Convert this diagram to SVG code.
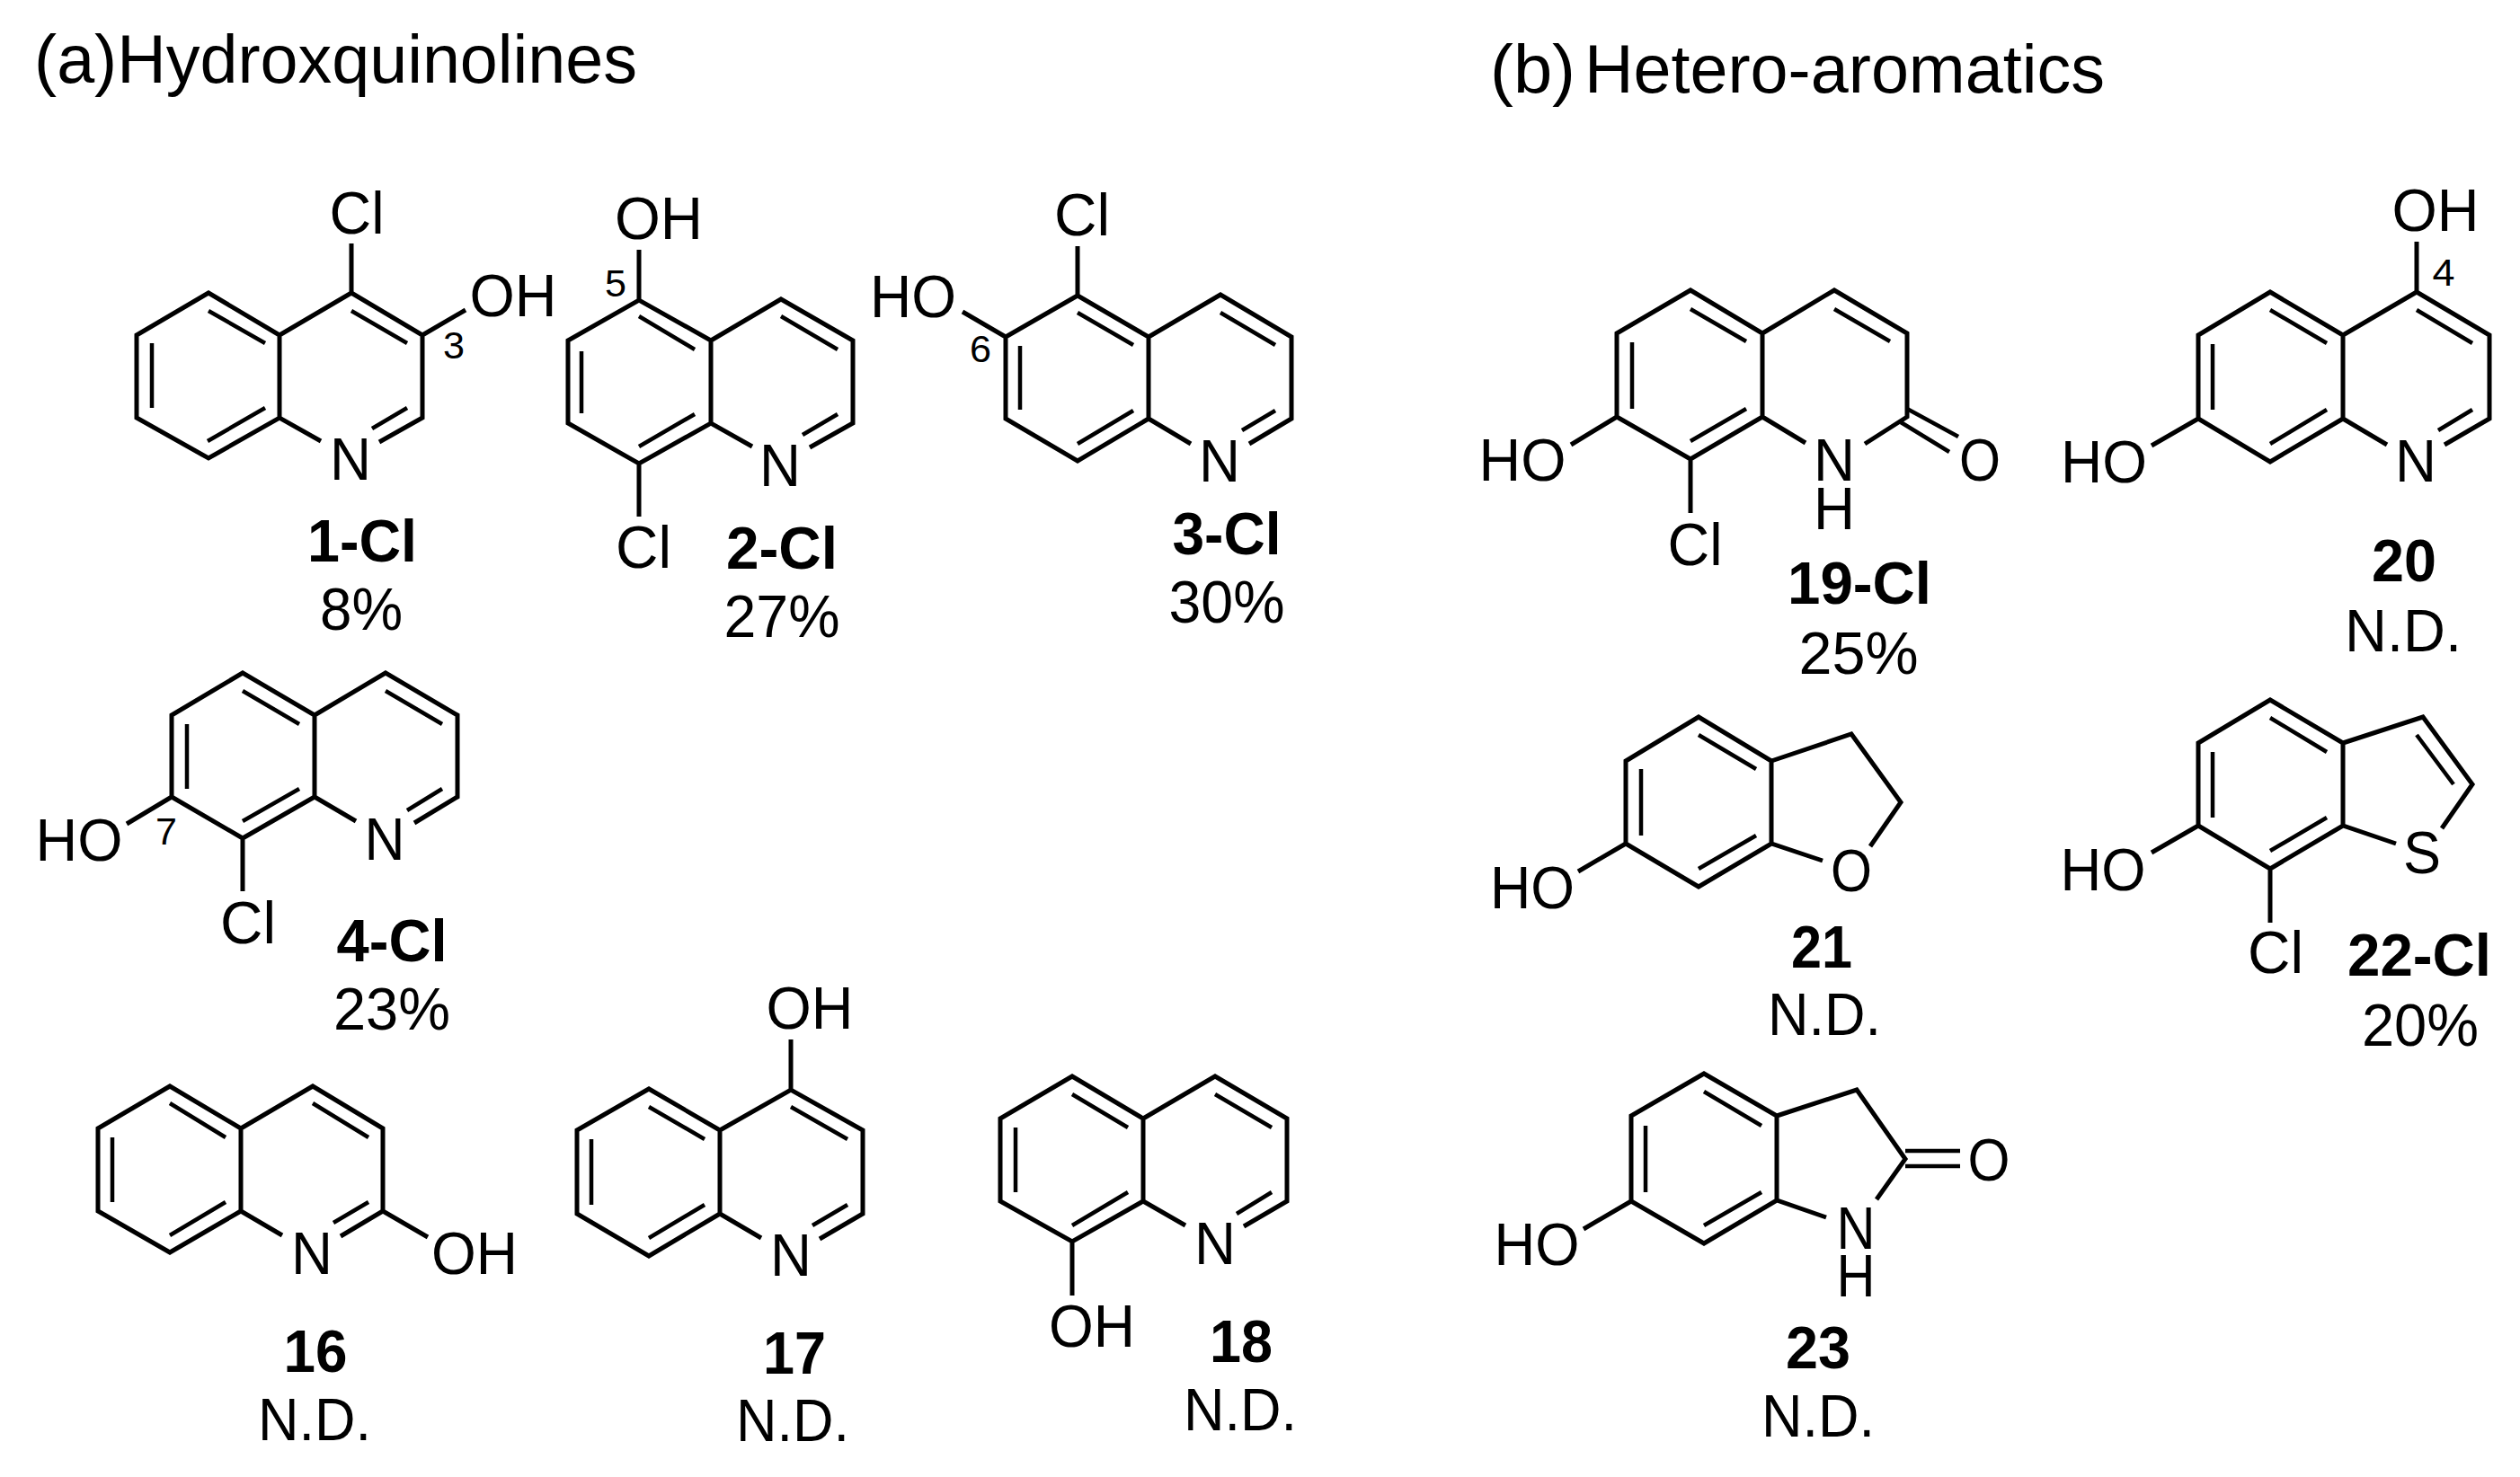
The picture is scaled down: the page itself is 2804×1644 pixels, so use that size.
<svg xmlns="http://www.w3.org/2000/svg" width="2804" height="1644" viewBox="0 0 2804 1644">
<style>
text{font-family:"Liberation Sans",Arial,sans-serif;fill:#000;text-anchor:middle}
.t{font-size:67px}
.b{font-size:67px;font-weight:bold}
.s{font-size:43px}
.h{font-size:76px;text-anchor:start}
.o{fill:none;stroke:#000;stroke-width:5;stroke-linejoin:miter;stroke-miterlimit:4}
.i{fill:none;stroke:#000;stroke-width:4.5}
</style>
<rect width="2804" height="1644" fill="#fff"/>
<g id="title-a"><text class="h" x="38" y="92" textLength="671" lengthAdjust="spacingAndGlyphs">(a)Hydroxquinolines</text></g>
<g id="title-b"><text class="h" x="1658" y="103" textLength="95" lengthAdjust="spacingAndGlyphs">(b)</text><text class="h" x="1763" y="103" textLength="579" lengthAdjust="spacingAndGlyphs">Hetero-aromatics</text></g>
<g id="bonds">
<g id="bonds-1-Cl"><path class="o" d="M311 465V373L232 326L152 373V465L232 510L311 465L357 491M311 373L391 326L470 373V465L422 492M391 271V326M470 373L518 345"/><path class="i" d="M232 346L295 382M169 382V454M231 491L295 454M391 346L453 382M453 454L414 477"/></g>
<g id="bonds-2-Cl"><path class="o" d="M791 471V379L711 334L632 379V471L711 516L791 471L837 497M791 379L869 333L949 379V471L901 498M711 278V334M711 516V575"/><path class="i" d="M711 352L773 389M869 352L932 389M647 391V460M711 497L773 461M932 461L893 484"/></g>
<g id="bonds-3-Cl"><path class="o" d="M1278 466V375L1199 329L1119 375V466L1199 513L1278 466L1325 494M1278 375L1358 328L1437 375V466L1390 494M1199 274V329M1119 375L1071 347"/><path class="i" d="M1199 348L1261 384M1358 348L1419 384M1135 385V456M1199 494L1261 457M1419 457L1382 479"/></g>
<g id="bonds-4-Cl"><path class="o" d="M350 887V796L270 749L191 796V887L270 933L350 887L396 914M350 796L429 749L509 796V887L461 916M270 933V992M191 887L141 917"/><path class="i" d="M270 769L333 806M429 769L492 806M208 806V878M270 914L333 878M492 878L453 902"/></g>
<g id="bonds-16"><path class="o" d="M268 1348V1256L189 1209L109 1256V1348L189 1394L268 1348L314 1375M268 1256L348 1209L426 1256V1348L379 1376M426 1348L476 1377"/><path class="i" d="M189 1228L251 1266M348 1228L410 1266M125 1266V1338M189 1375L251 1338M410 1338L371 1361"/></g>
<g id="bonds-17"><path class="o" d="M801 1351V1258L722 1212L642 1258V1351L722 1398L801 1351L847 1378M801 1258L880 1213L960 1258V1351L912 1379M880 1157V1213"/><path class="i" d="M722 1232L784 1268M658 1268V1341M722 1378L784 1341M880 1232L943 1268M943 1341L904 1364"/></g>
<g id="bonds-18"><path class="o" d="M1272 1337V1245L1193 1198L1113 1245V1337L1193 1382L1272 1337L1319 1364M1272 1245L1352 1198L1432 1245V1337L1384 1365M1193 1382V1442"/><path class="i" d="M1193 1218L1255 1255M1352 1218L1415 1255M1130 1255V1327M1193 1364L1255 1327M1415 1327L1376 1351"/></g>
<g id="bonds-19-Cl"><path class="o" d="M1961 464V371L1881 323L1799 371V464L1881 511L1961 464L2009 493M1961 371L2041 323L2122 371V464L2075 494M1881 511V571M1799 464L1748 495"/><path class="i" d="M1881 344L1943 380M2041 344L2103 380M1816 381V455M1881 491L1943 455M2122 455L2179 486M2115 470L2169 503"/></g>
<g id="bonds-20"><path class="o" d="M2607 466V373L2526 325L2446 373V466L2526 514L2607 466L2656 495M2607 373L2689 325L2770 373V466L2720 495M2689 269V325M2446 466L2394 496"/><path class="i" d="M2526 345L2589 382M2689 345L2751 382M2462 383V456M2526 494L2589 456M2751 456L2713 479"/></g>
<g id="bonds-21"><path class="o" d="M1971 939V847L1890 798L1809 847V939L1890 987L1971 939L2028 958M1971 847L2060 817L2115 893L2081 942M1809 939L1756 970"/><path class="i" d="M1890 818L1954 856M1826 856V930M1890 967L1954 930"/></g>
<g id="bonds-22-Cl"><path class="o" d="M2607 919V827L2526 779L2446 827V919L2526 967L2607 919L2666 939M2607 827L2696 798L2751 873L2717 922M2526 967V1027M2446 919L2394 949"/><path class="i" d="M2526 799L2589 837M2462 837V910M2526 947L2589 910M2689 818L2730 873"/></g>
<g id="bonds-23"><path class="o" d="M1977 1336V1242L1896 1195L1815 1242V1337L1896 1384L1977 1336L2032 1355M1977 1242L2066 1213L2120 1290L2088 1335M1815 1337L1762 1368"/><path class="i" d="M1896 1215L1960 1253M1831 1253V1327M1896 1364L1960 1327M2120 1281H2181M2120 1298H2181"/></g>
</g>
<g id="mol-1-Cl">
<text class="t" x="397" y="260" textLength="61" lengthAdjust="spacingAndGlyphs">Cl</text><text class="t" x="571" y="352" textLength="97" lengthAdjust="spacingAndGlyphs">OH</text><text class="s" x="505" y="399" textLength="24" lengthAdjust="spacingAndGlyphs">3</text><text class="t" x="390" y="534" textLength="46" lengthAdjust="spacingAndGlyphs">N</text><text class="b" x="403" y="625" textLength="122" lengthAdjust="spacingAndGlyphs">1-Cl</text><text class="t" x="402" y="701" textLength="92" lengthAdjust="spacingAndGlyphs">8%</text></g>
<g id="mol-2-Cl">
<text class="t" x="733" y="266" textLength="98" lengthAdjust="spacingAndGlyphs">OH</text><text class="s" x="685" y="330" textLength="24" lengthAdjust="spacingAndGlyphs">5</text><text class="t" x="716" y="632" textLength="62" lengthAdjust="spacingAndGlyphs">Cl</text><text class="t" x="868" y="541" textLength="46" lengthAdjust="spacingAndGlyphs">N</text><text class="b" x="870" y="633" textLength="124" lengthAdjust="spacingAndGlyphs">2-Cl</text><text class="t" x="870" y="709" textLength="129" lengthAdjust="spacingAndGlyphs">27%</text></g>
<g id="mol-3-Cl">
<text class="t" x="1204" y="262" textLength="62" lengthAdjust="spacingAndGlyphs">Cl</text><text class="t" x="1016" y="353" textLength="96" lengthAdjust="spacingAndGlyphs">HO</text><text class="s" x="1091" y="403" textLength="24" lengthAdjust="spacingAndGlyphs">6</text><text class="t" x="1357" y="536" textLength="46" lengthAdjust="spacingAndGlyphs">N</text><text class="b" x="1365" y="617" textLength="121" lengthAdjust="spacingAndGlyphs">3-Cl</text><text class="t" x="1365" y="693" textLength="129" lengthAdjust="spacingAndGlyphs">30%</text></g>
<g id="mol-4-Cl">
<text class="t" x="88" y="958" textLength="97" lengthAdjust="spacingAndGlyphs">HO</text><text class="s" x="185" y="940" textLength="24" lengthAdjust="spacingAndGlyphs">7</text><text class="t" x="428" y="957" textLength="45" lengthAdjust="spacingAndGlyphs">N</text><text class="t" x="276" y="1050" textLength="62" lengthAdjust="spacingAndGlyphs">Cl</text><text class="b" x="436" y="1070" textLength="123" lengthAdjust="spacingAndGlyphs">4-Cl</text><text class="t" x="436" y="1146" textLength="130" lengthAdjust="spacingAndGlyphs">23%</text></g>
<g id="mol-16">
<text class="t" x="347" y="1418" textLength="46" lengthAdjust="spacingAndGlyphs">N</text><text class="t" x="528" y="1418" textLength="96" lengthAdjust="spacingAndGlyphs">OH</text><text class="b" x="351" y="1527" textLength="71" lengthAdjust="spacingAndGlyphs">16</text><text class="t" x="350" y="1603" textLength="126" lengthAdjust="spacingAndGlyphs">N.D.</text></g>
<g id="mol-17">
<text class="t" x="880" y="1420" textLength="46" lengthAdjust="spacingAndGlyphs">N</text><text class="t" x="901" y="1145" textLength="97" lengthAdjust="spacingAndGlyphs">OH</text><text class="b" x="884" y="1529" textLength="70" lengthAdjust="spacingAndGlyphs">17</text><text class="t" x="882" y="1604" textLength="126" lengthAdjust="spacingAndGlyphs">N.D.</text></g>
<g id="mol-18">
<text class="t" x="1352" y="1407" textLength="46" lengthAdjust="spacingAndGlyphs">N</text><text class="t" x="1215" y="1499" textLength="96" lengthAdjust="spacingAndGlyphs">OH</text><text class="b" x="1381" y="1516" textLength="70" lengthAdjust="spacingAndGlyphs">18</text><text class="t" x="1380" y="1592" textLength="126" lengthAdjust="spacingAndGlyphs">N.D.</text></g>
<g id="mol-19-Cl">
<text class="t" x="1694" y="535" textLength="97" lengthAdjust="spacingAndGlyphs">HO</text><text class="t" x="1886" y="629" textLength="61" lengthAdjust="spacingAndGlyphs">Cl</text><text class="t" x="2041" y="535" textLength="46" lengthAdjust="spacingAndGlyphs">N</text><text class="t" x="2041" y="589" textLength="46" lengthAdjust="spacingAndGlyphs">H</text><text class="t" x="2203" y="535" textLength="46" lengthAdjust="spacingAndGlyphs">O</text><text class="b" x="2069" y="672" textLength="160" lengthAdjust="spacingAndGlyphs">19-Cl</text><text class="t" x="2068" y="750" textLength="133" lengthAdjust="spacingAndGlyphs">25%</text></g>
<g id="mol-20">
<text class="t" x="2710" y="257" textLength="97" lengthAdjust="spacingAndGlyphs">OH</text><text class="s" x="2719" y="318" textLength="25" lengthAdjust="spacingAndGlyphs">4</text><text class="t" x="2341" y="537" textLength="96" lengthAdjust="spacingAndGlyphs">HO</text><text class="t" x="2688" y="536" textLength="46" lengthAdjust="spacingAndGlyphs">N</text><text class="b" x="2675" y="647" textLength="72" lengthAdjust="spacingAndGlyphs">20</text><text class="t" x="2674" y="725" textLength="130" lengthAdjust="spacingAndGlyphs">N.D.</text></g>
<g id="mol-21">
<text class="t" x="1705" y="1011" textLength="94" lengthAdjust="spacingAndGlyphs">HO</text><text class="t" x="2060" y="992" textLength="46" lengthAdjust="spacingAndGlyphs">O</text><text class="b" x="2027" y="1077" textLength="68" lengthAdjust="spacingAndGlyphs">21</text><text class="t" x="2030" y="1152" textLength="126" lengthAdjust="spacingAndGlyphs">N.D.</text></g>
<g id="mol-22-Cl">
<text class="t" x="2340" y="991" textLength="95" lengthAdjust="spacingAndGlyphs">HO</text><text class="t" x="2695" y="972" textLength="42" lengthAdjust="spacingAndGlyphs">S</text><text class="t" x="2532" y="1083" textLength="62" lengthAdjust="spacingAndGlyphs">Cl</text><text class="b" x="2692" y="1086" textLength="160" lengthAdjust="spacingAndGlyphs">22-Cl</text><text class="t" x="2693" y="1164" textLength="130" lengthAdjust="spacingAndGlyphs">20%</text></g>
<g id="mol-23">
<text class="t" x="1710" y="1408" textLength="95" lengthAdjust="spacingAndGlyphs">HO</text><text class="t" x="2213" y="1314" textLength="47" lengthAdjust="spacingAndGlyphs">O</text><text class="t" x="2065" y="1390" textLength="43" lengthAdjust="spacingAndGlyphs">N</text><text class="t" x="2065" y="1443" textLength="43" lengthAdjust="spacingAndGlyphs">H</text><text class="b" x="2023" y="1523" textLength="72" lengthAdjust="spacingAndGlyphs">23</text><text class="t" x="2023" y="1599" textLength="126" lengthAdjust="spacingAndGlyphs">N.D.</text></g>
</svg>
